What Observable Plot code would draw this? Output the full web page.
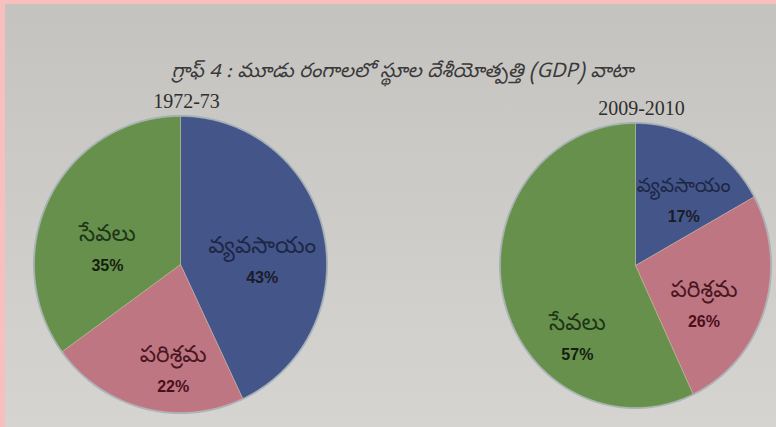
<!DOCTYPE html>
<html>
<head>
<meta charset="utf-8">
<script src="https://cdn.jsdelivr.net/npm/d3@7"></script>
<script src="https://cdn.jsdelivr.net/npm/@observablehq/plot@0.6"></script>
<style>
  html { background: #f8bfbf; margin: 0; padding: 0; }
  body {
    margin: 4px 0 0 5px; padding: 0;
    width: 771px; height: 423px; overflow: hidden;
    background: linear-gradient(180deg, #c5c3c0 0%, #cccac6 40%, #d6d4d0 100%);
  }
  #title {
    box-sizing: border-box; height: 90px; padding-top: 58px;
    font-family: "Noto Sans Telugu", "Noto Serif Telugu", "Noto Sans", sans-serif;
    font-style: italic; font-size: 20px; line-height: 24px; color: #3a3a3a;
    text-align: center; padding-left: 24px;
  }
  #chart svg { display: block; background: transparent; }
</style>
</head>
<body>
<div id="title">గ్రాఫ్ 4 : మూడు రంగాలలో స్థూల దేశీయోత్పత్తి (GDP) వాటా</div>
<div id="chart"></div>
<script>
// ---- data ----
const periods = ["1972-73", "2009-2010"];
const sectors = ["వ్యవసాయం", "పరిశ్రమ", "సేవలు"];
const share1972 = [43, 22, 35];
const share2009 = [17, 26, 57];

// ---- layout / style (not data) ----
const W = 771, H = 333;
const pieLayout = [
  {cx: 175, cy: 170, rx: 146, ry: 148},
  {cx: 630, cy: 171, rx: 135, ry: 142}
];
// label placement in polar form: [angle in degrees clockwise from top, fraction of radius]
const labelPolar = [
  [[88, 0.56], [184, 0.72], [281, 0.51]],
  [[38, 0.58], [119, 0.58], [220, 0.67]]
];
const labelSizes = [[23, 23, 23], [21, 23, 23]];
const palette = ["#44558a", "#bf7683", "#67904d"];
const nameColors = ["#1d2745", "#4a1620", "#1e3517"];
const pctColors = ["#1a1c28", "#4a0f1a", "#14200f"];

const shares = [share1972, share2009];

const slicePts = [];
const rimPts = [];
const labels = [];
const yearLabels = [];
shares.forEach((vals, p) => {
  const L = pieLayout[p];
  const arcs = d3.pie().sort(null).value(v => v)(vals);
  arcs.forEach((a, i) => {
    const key = p + "-" + i;
    const n = Math.max(4, Math.ceil((a.endAngle - a.startAngle) / 0.01));
    slicePts.push({key, sector: sectors[i], x: L.cx, y: L.cy});
    for (let k = 0; k <= n; k++) {
      const t = a.startAngle + (a.endAngle - a.startAngle) * k / n;
      slicePts.push({key, sector: sectors[i], x: L.cx + L.rx * Math.sin(t), y: L.cy - L.ry * Math.cos(t)});
    }
    slicePts.push({key, sector: sectors[i], x: L.cx, y: L.cy});
    const [deg, f] = labelPolar[p][i];
    const t = deg * Math.PI / 180;
    labels.push({
      name: sectors[i], pct: a.value + "%", i, size: labelSizes[p][i],
      x: L.cx + f * L.rx * Math.sin(t), y: L.cy - f * L.ry * Math.cos(t)
    });
  });
  for (let k = 0; k <= 360; k++) {
    const t = k * Math.PI / 180;
    rimPts.push({pie: p, k, x: L.cx + L.rx * Math.sin(t), y: L.cy - L.ry * Math.cos(t)});
  }
  yearLabels.push({text: periods[p], x: L.cx + 6, y: L.cy - L.ry - 15});
});

const teluguFont = "'Noto Sans Telugu', 'Noto Serif Telugu', 'Noto Sans', sans-serif";

const chart = Plot.plot({
  width: W, height: H,
  margin: 0,
  x: {domain: [0, W], range: [0, W], axis: null},
  y: {domain: [0, H], range: [0, H], axis: null},
  color: {domain: sectors, range: palette},
  style: {background: "transparent", overflow: "visible"},
  marks: [
    Plot.line(rimPts, {x: "x", y: "y", z: "pie", stroke: "#8ea7b8", strokeWidth: 3, strokeOpacity: 0.7, curve: "linear"}),
    Plot.line(slicePts, {x: "x", y: "y", z: "key", fill: "sector", stroke: "#d9d2b0", strokeOpacity: 0.35, strokeWidth: 1, curve: "linear"}),
    Plot.text(labels.filter(d => d.size === 23), {x: "x", y: "y", text: "name", dy: -16, fontSize: 23, fontFamily: teluguFont,
      fill: d => nameColors[d.i]}),
    Plot.text(labels.filter(d => d.size !== 23), {x: "x", y: "y", text: "name", dy: -15, fontSize: 20, fontFamily: teluguFont,
      fill: d => nameColors[d.i]}),
    Plot.text(labels, {x: "x", y: "y", text: "pct", dy: 16, fontSize: 16, fontWeight: "bold",
      fontFamily: "'Liberation Sans', Arial, sans-serif", fill: d => pctColors[d.i]}),
    Plot.text(yearLabels, {x: "x", y: "y", text: "text", fontSize: 20,
      fontFamily: "'Liberation Serif', 'DejaVu Serif', serif", fill: "#2f2f2f"})
  ]
});
document.getElementById("chart").appendChild(chart);
</script>
</body>
</html>
